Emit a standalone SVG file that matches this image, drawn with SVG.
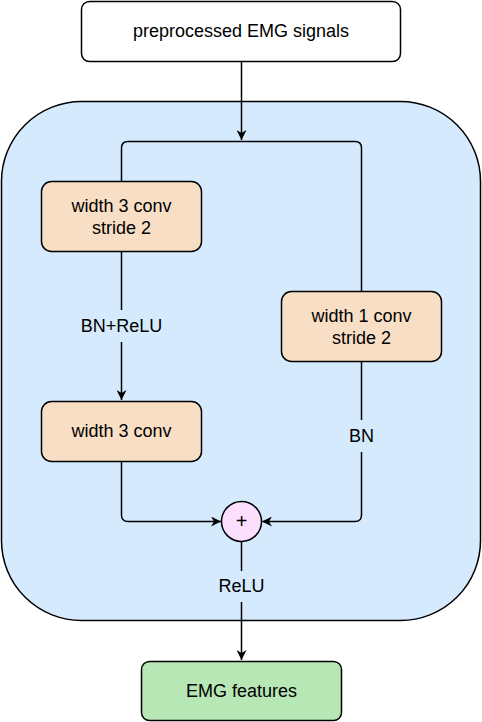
<svg xmlns="http://www.w3.org/2000/svg" width="482" height="722" viewBox="0 0 482 722">
<defs>
<style>
.n{stroke:#000;stroke-width:1.5}
.t{font-family:"Liberation Sans",Arial,sans-serif;font-size:18px;fill:#000;text-anchor:middle}
.c{fill:none;stroke:#000;stroke-width:1.5}
</style>
<marker id="ah" viewBox="0 0 10 10" refX="10" refY="5" markerWidth="10" markerHeight="10" markerUnits="userSpaceOnUse" orient="auto">
<path d="M0,0 L10,5 L0,10 L3,5 Z" fill="#000"/>
</marker>
</defs>
<g id="container"><rect x="1.5" y="101.5" width="479" height="519" rx="80" ry="80" fill="#d5eafd" class="n"/></g>
<g id="input"><rect x="81.5" y="1.5" width="319" height="60" rx="8" fill="#fff" class="n"/><text class="t" x="241" y="37">preprocessed EMG signals</text></g>
<g id="conv1"><rect x="41.5" y="181.5" width="160" height="70" rx="10" fill="#f8dec4" class="n"/><text class="t" x="121.5" y="212">width 3 conv</text><text class="t" x="121.5" y="234">stride 2</text></g>
<g id="conv2"><rect x="41.5" y="401.5" width="160" height="60" rx="10" fill="#f8dec4" class="n"/><text class="t" x="121.5" y="437">width 3 conv</text></g>
<g id="conv3"><rect x="281.5" y="291.5" width="160" height="70" rx="10" fill="#f8dec4" class="n"/><text class="t" x="361.5" y="322">width 1 conv</text><text class="t" x="361.5" y="344">stride 2</text></g>
<g id="add"><circle cx="241.5" cy="521.5" r="20" fill="#fbdffd" class="n"/><text class="t" x="241.5" y="528" style="font-size:20px">+</text></g>
<g id="output"><rect x="141.5" y="661.5" width="200" height="59" rx="8" fill="#b6e7b4" class="n"/><text class="t" x="241.5" y="697">EMG features</text></g>
<g id="connectors">
<path class="c" d="M241.5,62 V140" marker-end="url(#ah)"/>
<path class="c" d="M121.5,181 V148 Q121.5,141.5 128,141.5 H355 Q361.5,141.5 361.5,148 V291"/>
<path class="c" d="M121.5,252 V310"/>
<path class="c" d="M121.5,342 V400" marker-end="url(#ah)"/>
<text class="t" x="121.5" y="332">BN+ReLU</text>
<path class="c" d="M361.5,362 V420"/>
<path class="c" d="M361.5,452 V515 Q361.5,521.5 355,521.5 H262" marker-end="url(#ah)"/>
<text class="t" x="361.5" y="442">BN</text>
<path class="c" d="M121.5,462 V515 Q121.5,521.5 128,521.5 H221" marker-end="url(#ah)"/>
<path class="c" d="M241.5,542 V571"/>
<path class="c" d="M241.5,602 V660" marker-end="url(#ah)"/>
<text class="t" x="241.5" y="592">ReLU</text>
</g>
</svg>
